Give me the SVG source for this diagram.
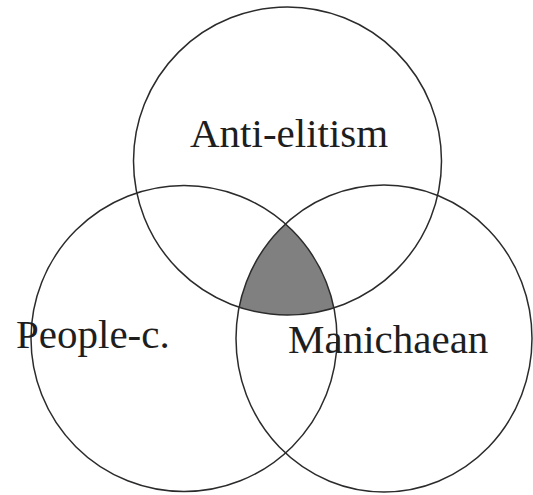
<svg xmlns="http://www.w3.org/2000/svg" width="533" height="495" viewBox="0 0 533 495">
  <style>
    .ring { fill: none; stroke: #2b2b2b; stroke-width: 1.5; }
    .lbl { font-family: "Liberation Serif", "DejaVu Serif", serif; font-size: 41px; fill: #1e1e1e; }
  </style>
  <defs>
    <clipPath id="clipLeft"><circle cx="184" cy="338.5" r="153"/></clipPath>
    <clipPath id="clipRight"><ellipse cx="384" cy="338.5" rx="148" ry="153.5"/></clipPath>
  </defs>
  <rect width="533" height="495" fill="#ffffff"/>
  <g id="intersection" clip-path="url(#clipLeft)">
    <g clip-path="url(#clipRight)">
      <circle cx="287.5" cy="161" r="154" fill="#808080"/>
    </g>
  </g>
  <g id="anti-elitism">
    <circle class="ring" cx="287.5" cy="161" r="154"/>
    <text class="lbl" x="190" y="147">Anti-elitism</text>
  </g>
  <g id="people-centrism">
    <circle class="ring" cx="184" cy="338.5" r="153"/>
    <text class="lbl" x="16" y="348">People-c.</text>
  </g>
  <g id="manichaean">
    <ellipse class="ring" cx="384" cy="338.5" rx="148" ry="153.5"/>
    <text class="lbl" x="288" y="353">Manichaean</text>
  </g>
</svg>
